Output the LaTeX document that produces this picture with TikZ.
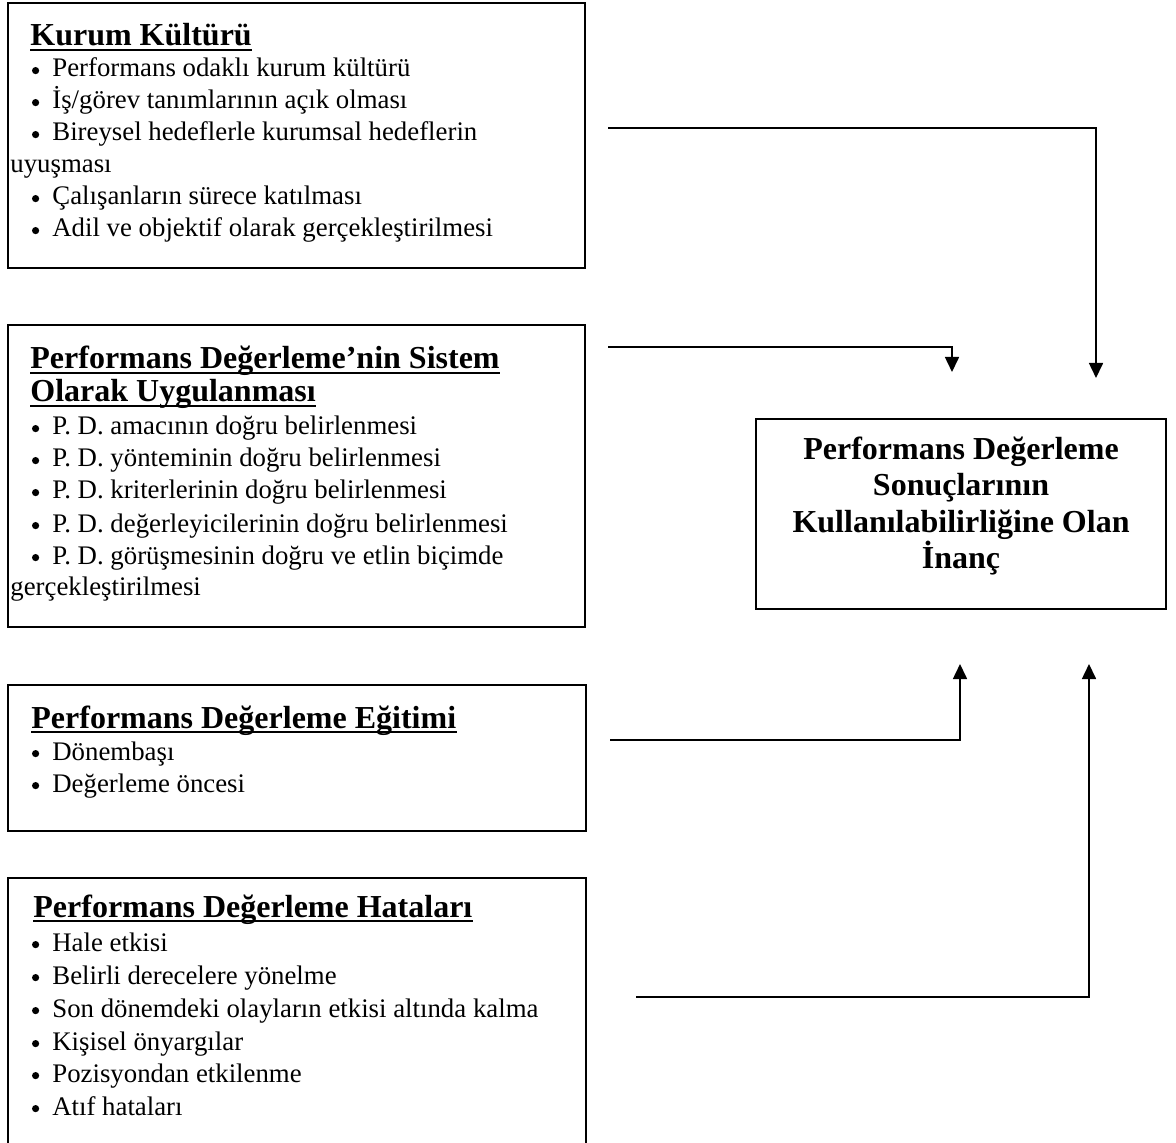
\documentclass[tikz,border=0pt]{standalone}
\usepackage{fontspec}
\setmainfont{Liberation Serif}
\usetikzlibrary{arrows.meta}
\frenchspacing
\newcommand\bodyfont{\fontsize{13.4pt}{16pt}\selectfont}
\newcommand\headfont{\bfseries\fontsize{16pt}{18pt}\selectfont}
\newcommand\bul{\makebox[11pt][l]{\hspace{0.8pt}\raisebox{1.4pt}{\tikz\fill (1.8pt,1.8pt) circle[radius=1.8pt];}}}
\begin{document}
\begin{tikzpicture}[x=0.5pt,y=-0.5pt,
  boxst/.style={draw, line width=0.9pt, anchor=north west, inner sep=0pt, outer sep=0pt},
  item/.style={anchor=base west, inner sep=0pt, font=\bodyfont},
  head/.style={anchor=base west, inner sep=0pt, font=\headfont},
  mainline/.style={anchor=base, inner sep=0pt, font=\headfont},
  uline/.style={line width=1pt},
  conn/.style={line width=0.8pt, -{Triangle[length=7.5pt,width=7pt]}}]
\clip (0,0) rectangle (1176,1143);
\fill[white] (0,0) rectangle (1176,1143);

% Box 1
\node[boxst, minimum width=288.5pt, minimum height=132.5pt] (b1) at (8,3) {};
\node[head] (h1) at (30,46) {Kurum Kültürü};
\draw[uline] ([yshift=-2.2pt]h1.base west) -- ([yshift=-2.2pt]h1.base east);
\node[item] (k1) at (30,77) {\bul Performans odaklı kurum kültürü};
\node[item] (k2) at (30,109) {\bul İş/görev tanımlarının açık olması};
\node[item] (k3) at (30,141) {\bul Bireysel hedeflerle kurumsal hedeflerin};
\node[item] (k3b) at (10,173) {uyuşması};
\node[item] (k4) at (30,205) {\bul Çalışanların sürece katılması};
\node[item] (k5) at (30,237) {\bul Adil ve objektif olarak gerçekleştirilmesi};

% Box 2
\node[boxst, minimum width=288.5pt, minimum height=151pt] (b2) at (8,325) {};
\node[head] (h2a) at (30,369) {Performans Değerleme’nin Sistem};
\draw[uline] ([yshift=-2.2pt]h2a.base west) -- ([yshift=-2.2pt]h2a.base east);
\node[head] (h2b) at (30,402) {Olarak Uygulanması};
\draw[uline] ([yshift=-2.2pt]h2b.base west) -- ([yshift=-2.2pt]h2b.base east);
\node[item] (p1) at (30,435) {\bul P. D. amacının doğru belirlenmesi};
\node[item] (p2) at (30,467) {\bul P. D. yönteminin doğru belirlenmesi};
\node[item] (p3) at (30,499) {\bul P. D. kriterlerinin doğru belirlenmesi};
\node[item] (p4) at (30,532) {\bul P. D. değerleyicilerinin doğru belirlenmesi};
\node[item] (p5) at (30,564) {\bul P. D. görüşmesinin doğru ve etlin biçimde};
\node[item] (p5b) at (10,596) {gerçekleştirilmesi};

% Box 3
\node[boxst, minimum width=289pt, minimum height=73pt] (b3) at (8,685) {};
\node[head] (h3) at (31,728) {Performans Değerleme Eğitimi};
\draw[uline] ([yshift=-2.2pt]h3.base west) -- ([yshift=-2.2pt]h3.base east);
\node[item] (e1) at (30,760) {\bul Dönembaşı};
\node[item] (e2) at (30,792) {\bul Değerleme öncesi};

% Box 4
\node[boxst, minimum width=289pt, minimum height=141pt] (b4) at (8,878) {};
\node[head] (h4) at (33,917) {Performans Değerleme Hataları};
\draw[uline] ([yshift=-2.2pt]h4.base west) -- ([yshift=-2.2pt]h4.base east);
\node[item] (q1) at (30,951) {\bul Hale etkisi};
\node[item] (q2) at (30,984) {\bul Belirli derecelere yönelme};
\node[item] (q3) at (30,1017) {\bul Son dönemdeki olayların etkisi altında kalma};
\node[item] (q4) at (30,1050) {\bul Kişisel önyargılar};
\node[item] (q5) at (30,1082) {\bul Pozisyondan etkilenme};
\node[item] (q6) at (30,1115) {\bul Atıf hataları};

% Result box
\node[boxst, minimum width=205pt, minimum height=95pt] (r) at (756,419) {};
\node[mainline] (r1) at (961,460) {Performans Değerleme};
\node[mainline] (r2) at (961,496) {Sonuçlarının};
\node[mainline] (r3) at (961,532) {Kullanılabilirliğine Olan};
\node[mainline] (r4) at (961,568) {İnanç};

% Connectors
\coordinate (s1) at (608,128);  \coordinate (t1) at (1096,378);
\coordinate (s2) at (608,347);  \coordinate (t2) at (952,372);
\coordinate (s3) at (610,740);  \coordinate (t3) at (960,664);
\coordinate (s4) at (636,997);  \coordinate (t4) at (1089,664);
\draw[conn] (s1) -| (t1);
\draw[conn] (s2) -| (t2);
\draw[conn] (s3) -| (t3);
\draw[conn] (s4) -| (t4);
\end{tikzpicture}
\end{document}
